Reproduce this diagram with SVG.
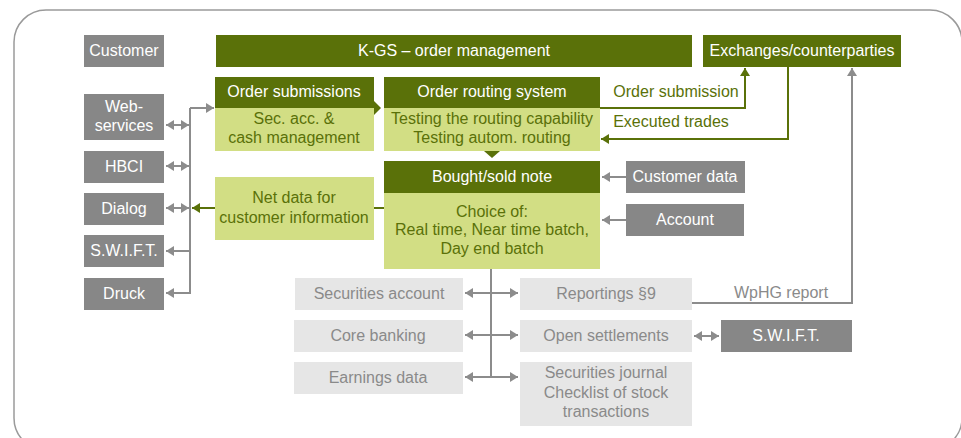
<svg xmlns="http://www.w3.org/2000/svg" width="961" height="438" viewBox="0 0 961 438">
<defs>
<style>
text{font-family:"Liberation Sans",Arial,sans-serif;font-size:16px;text-anchor:middle}
.dg{fill:#5a7109}.lg{fill:#d2de84}.gr{fill:#878787}.lt{fill:#e6e6e6}
.tw{fill:#ffffff}.tg{fill:#5a7109}.tl{fill:#8a8a8a}
.cg{stroke:#8c8c8c;stroke-width:2;fill:none}
.cn{stroke:#5a7109;stroke-width:2;fill:none}
</style>
<marker id="ag" viewBox="0 0 8 10" refX="8" refY="5" markerWidth="8" markerHeight="10" markerUnits="userSpaceOnUse" orient="auto-start-reverse"><path d="M0,0L8,5L0,10z" fill="#8c8c8c"/></marker>
<marker id="an" viewBox="0 0 8 10" refX="8" refY="5" markerWidth="8" markerHeight="10" markerUnits="userSpaceOnUse" orient="auto-start-reverse"><path d="M0,0L8,5L0,10z" fill="#5a7109"/></marker>
</defs>
<rect x="14" y="10" width="948" height="440" rx="32" fill="#ffffff" stroke="#9a9a9a" stroke-width="1.5"/>

<g id="connectors">
<path class="cg" d="M190,108V294"/>
<path class="cg" d="M190,108H214" marker-end="url(#ag)"/>
<path class="cg" d="M166,125H189" marker-start="url(#ag)" marker-end="url(#ag)"/>
<path class="cg" d="M166,166H189" marker-start="url(#ag)" marker-end="url(#ag)"/>
<path class="cg" d="M166,208H189" marker-start="url(#ag)" marker-end="url(#ag)"/>
<path class="cg" d="M190,251H166" marker-end="url(#ag)"/>
<path class="cg" d="M190,293H166" marker-end="url(#ag)"/>
<path class="cn" d="M215,208H192" marker-end="url(#an)"/>
<path class="cn" d="M374,208H384"/>
<path d="M374,101L381,108L374,115z" fill="#5a7109"/>
<path d="M484,151L492,158L500,151z" fill="#5a7109"/>
<path class="cn" d="M600,108H745V68" marker-end="url(#an)"/>
<path class="cn" d="M788,67V139H601" marker-end="url(#an)"/>
<path class="cg" d="M692,303H852V68" marker-end="url(#ag)"/>
<path class="cg" d="M626,177H602" marker-end="url(#ag)"/>
<path class="cg" d="M626,220H602" marker-end="url(#ag)"/>
<path class="cg" d="M491,269V377"/>
<path class="cg" d="M465,293H518" marker-start="url(#ag)" marker-end="url(#ag)"/>
<path class="cg" d="M465,335H518" marker-start="url(#ag)" marker-end="url(#ag)"/>
<path class="cg" d="M465,377H518" marker-start="url(#ag)" marker-end="url(#ag)"/>
<path class="cg" d="M694,336H719" marker-start="url(#ag)" marker-end="url(#ag)"/>
<text x="676" y="97" class="tg">Order submission</text>
<text x="671" y="127" class="tg">Executed trades</text>
<text x="781" y="298" class="tl">WpHG report</text>
</g>

<g id="customer"><rect class="gr" x="84" y="35" width="80" height="32"/><text x="124" y="56" class="tw">Customer</text></g>
<g id="kgs"><rect class="dg" x="216" y="35" width="476" height="32"/><text x="454" y="56" class="tw">K-GS – order management</text></g>
<g id="exchanges"><rect class="dg" x="703" y="35" width="198" height="32"/><text x="802" y="56" class="tw">Exchanges/counterparties</text></g>

<g id="order-submissions"><rect class="dg" x="215" y="77" width="159" height="31"/><rect class="lg" x="215" y="108" width="159" height="43"/>
<text x="294" y="97" class="tw">Order submissions</text><text x="294" y="124" class="tg">Sec. acc. &amp;</text><text x="294" y="143" class="tg">cash management</text></g>
<g id="order-routing"><rect class="dg" x="384" y="77" width="216" height="31"/><rect class="lg" x="384" y="108" width="216" height="43"/>
<text x="492" y="97" class="tw">Order routing system</text><text x="492" y="124" class="tg">Testing the routing capability</text><text x="492" y="143" class="tg">Testing autom. routing</text></g>
<g id="bought-sold"><rect class="dg" x="384" y="161" width="216" height="32"/><rect class="lg" x="384" y="193" width="216" height="76"/>
<text x="492" y="182" class="tw">Bought/sold note</text><text x="492" y="217" class="tg">Choice of:</text><text x="492" y="235" class="tg">Real time, Near time batch,</text><text x="492" y="254" class="tg">Day end batch</text></g>
<g id="net-data"><rect class="lg" x="215" y="177" width="159" height="63"/><text x="294" y="203" class="tg">Net data for</text><text x="294" y="223" class="tg">customer information</text></g>
<g id="customer-data"><rect class="gr" x="626" y="161" width="119" height="32"/><text x="685" y="182" class="tw">Customer data</text></g>
<g id="account"><rect class="gr" x="626" y="204" width="118" height="32"/><text x="685" y="225" class="tw">Account</text></g>

<g id="web-services"><rect class="gr" x="84" y="94" width="80" height="46"/><text x="124" y="112" class="tw">Web-</text><text x="124" y="131" class="tw">services</text></g>
<g id="hbci"><rect class="gr" x="84" y="151" width="80" height="32"/><text x="124" y="172" class="tw">HBCI</text></g>
<g id="dialog"><rect class="gr" x="84" y="193" width="80" height="32"/><text x="124" y="214" class="tw">Dialog</text></g>
<g id="swift-left"><rect class="gr" x="84" y="235" width="80" height="32"/><text x="124" y="256" class="tw">S.W.I.F.T.</text></g>
<g id="druck"><rect class="gr" x="84" y="278" width="80" height="32"/><text x="124" y="299" class="tw">Druck</text></g>

<g id="securities-account"><rect class="lt" x="295" y="278" width="168" height="32"/><text x="379" y="299" class="tl">Securities account</text></g>
<g id="core-banking"><rect class="lt" x="294" y="320" width="169" height="32"/><text x="378" y="341" class="tl">Core banking</text></g>
<g id="earnings-data"><rect class="lt" x="294" y="362" width="169" height="32"/><text x="378" y="383" class="tl">Earnings data</text></g>
<g id="reportings"><rect class="lt" x="520" y="278" width="172" height="32"/><text x="606" y="299" class="tl">Reportings §9</text></g>
<g id="open-settlements"><rect class="lt" x="520" y="320" width="172" height="32"/><text x="606" y="341" class="tl">Open settlements</text></g>
<g id="securities-journal"><rect class="lt" x="520" y="362" width="172" height="64"/><text x="606" y="378" class="tl">Securities journal</text><text x="606" y="398" class="tl">Checklist of stock</text><text x="606" y="417" class="tl">transactions</text></g>
<g id="swift-right"><rect class="gr" x="721" y="320" width="131" height="32"/><text x="786" y="341" class="tw">S.W.I.F.T.</text></g>
</svg>
